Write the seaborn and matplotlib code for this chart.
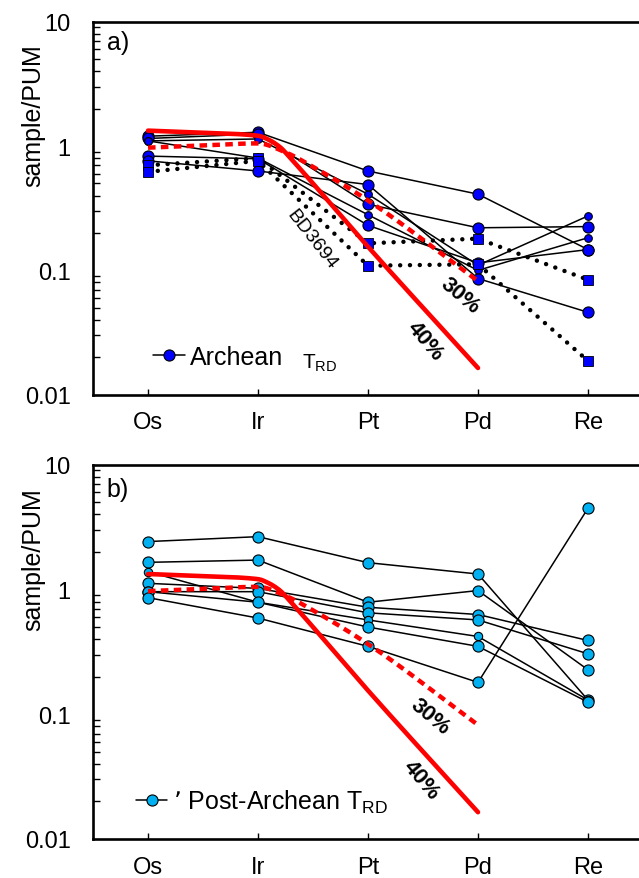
import numpy as np
import matplotlib
matplotlib.use("Agg")
import matplotlib.pyplot as plt
import seaborn as sns
from matplotlib.lines import Line2D

# ---------------- data ----------------
elements = ["Os", "Ir", "Pt", "Pd", "Re"]

# Panel a: Archean samples (solid lines)
arch_s1 = [1.20, 1.29, 0.63, 0.41, 0.147]
arch_s2 = [1.15, 1.25, 0.34, 0.22, 0.225]
arch_s3 = [1.10, 1.14, 0.41, 0.11, 0.274]
arch_s4 = [1.10, 0.80, 0.28, 0.10, 0.183]
arch_s5 = [0.83, 0.79, 0.23, 0.115, 0.147]
arch_s6 = [0.76, 0.63, 0.49, 0.086, 0.046]
# Panel a: dotted samples (incl. BD3694)
arch_d1 = [0.70, 0.80, 0.165, 0.18, 0.084]
arch_d2 = [0.62, 0.76, 0.109, 0.112, 0.0187]

# Panel b: Post-Archean samples
post_1 = [2.42, 2.65, 1.64, 1.33, 0.13]
post_2 = [1.65, 1.72, 0.79, 0.98, 0.227]
post_3 = [1.12, 1.02, 0.72, 0.63, 0.39]
post_4 = [0.96, 0.96, 0.65, 0.57, 0.305]
post_5 = [1.39, 0.79, 0.57, 0.42, 0.13]
post_6 = [0.96, 0.79, 0.50, 0.35, 0.125]
post_7 = [0.86, 0.59, 0.35, 0.18, 4.48]

# Melting model curves
melt40_pos = [0, 0.5, 1.0, 1.1, 1.2, 1.3, 1.4, 2.0, 3.0]
melt40_val = [1.33, 1.28, 1.21, 1.12, 0.98, 0.79, 0.63, 0.155, 0.0164]
melt30_pos = [0, 0.5, 1.0, 1.25, 1.5, 2.0, 3.0]
melt30_val = [0.97, 1.01, 1.05, 0.89, 0.68, 0.365, 0.082]

ytick_vals = [0.01, 0.1, 1, 10]
ytick_labels = ["0.01", "0.1", "1", "10"]


# ---------------- helpers ----------------
def pchip(x, y, xs):
    x = np.asarray(x, float); y = np.asarray(y, float)
    h = np.diff(x); d = np.diff(y) / h
    n = len(x); m = np.zeros(n)
    for k in range(1, n - 1):
        if d[k - 1] * d[k] > 0:
            w1 = 2 * h[k] + h[k - 1]; w2 = h[k] + 2 * h[k - 1]
            m[k] = (w1 + w2) / (w1 / d[k - 1] + w2 / d[k])
    m[0] = d[0]; m[-1] = d[-1]
    out = np.empty_like(xs)
    for i, xv in enumerate(xs):
        k = min(max(np.searchsorted(x, xv) - 1, 0), n - 2)
        t = (xv - x[k]) / h[k]
        h00 = 2*t**3 - 3*t**2 + 1; h10 = t**3 - 2*t**2 + t
        h01 = -2*t**3 + 3*t**2; h11 = t**3 - t**2
        out[i] = h00*y[k] + h10*h[k]*m[k] + h01*y[k+1] + h11*h[k]*m[k+1]
    return out


def smooth_curve(pos, val):
    xs = np.linspace(pos[0], pos[-1], 300)
    ys = 10 ** pchip(pos, np.log10(val), xs)
    return xs, ys


x_idx = np.arange(len(elements))

sns.set_style("white")
plt.rcParams["font.family"] = ["Liberation Sans", "DejaVu Sans"]
plt.rcParams["mathtext.default"] = "regular"
for key in ("text.color", "axes.labelcolor", "xtick.color", "ytick.color", "axes.edgecolor"):
    plt.rcParams[key] = "black"

fig = plt.figure(figsize=(6.39, 8.79), dpi=100)
ax_a = fig.add_axes([93 / 639, 1 - 395.7 / 879, 550 / 639, 373 / 879])
ax_b = fig.add_axes([93 / 639, 1 - 840 / 879, 550 / 639, 374.3 / 879])


def sample_line(ax, vals, face, ms=8, ls="-", lw=1.1, mec="black", marker="o"):
    sns.lineplot(x=x_idx, y=vals, ax=ax, color="black", lw=lw, linestyle=ls,
                 marker=marker, markersize=ms, markerfacecolor=face,
                 markeredgecolor=mec, markeredgewidth=0.8, sort=False,
                 estimator=None, legend=False, zorder=3)


def dotted_line(ax, vals):
    sns.lineplot(x=x_idx, y=vals, ax=ax, color="black", lw=3.2,
                 linestyle=(0, (0.01, 2.2)), dash_capstyle="round",
                 marker="s", markersize=7, markerfacecolor="#0000FF",
                 markeredgecolor="black", markeredgewidth=0.6, sort=False,
                 estimator=None, legend=False, zorder=3)


def model_curves(ax):
    xs, ys = smooth_curve(melt40_pos, melt40_val)
    sns.lineplot(x=xs, y=ys, ax=ax, color="#FF0000", lw=3.3, sort=False,
                 estimator=None, legend=False, zorder=4)
    xs, ys = smooth_curve(melt30_pos, melt30_val)
    sns.lineplot(x=xs, y=ys, ax=ax, color="#FF0000", lw=3.2,
                 linestyle=(0, (1.7, 1.2)), sort=False, estimator=None,
                 legend=False, zorder=4)


# ---------------- panel a ----------------
blue = "#0000FF"
sample_line(ax_a, arch_s1, blue, 8)
sample_line(ax_a, arch_s2, blue, 8)
sample_line(ax_a, arch_s3, blue, 5.5)
sample_line(ax_a, arch_s4, blue, 5.5)
sample_line(ax_a, arch_s5, blue, 8)
sample_line(ax_a, arch_s6, blue, 8)
dotted_line(ax_a, arch_d1)
dotted_line(ax_a, arch_d2)
model_curves(ax_a)

# ---------------- panel b ----------------
sky = "#00B0F0"
sample_line(ax_b, post_1, sky, 8)
sample_line(ax_b, post_2, sky, 8)
sample_line(ax_b, post_3, sky, 8)
sample_line(ax_b, post_4, sky, 8)
sample_line(ax_b, post_5, sky, 6)
sample_line(ax_b, post_6, sky, 8)
sample_line(ax_b, post_7, sky, 8)
model_curves(ax_b)

# ---------------- styling ----------------
for ax in (ax_a, ax_b):
    ax.set_yscale("log")
    ax.set_ylim(0.01, 10)
    ax.set_xlim(-0.5, 4.5)
    ax.set_xticks(x_idx)
    ax.set_xticklabels(elements, fontsize=17, color="black")
    ax.set_yticks(ytick_vals)
    ax.set_yticklabels(ytick_labels, fontsize=17, color="black")
    ax.set_ylabel("sample/PUM", fontsize=18, color="black")
    ax.yaxis.set_label_coords(-0.087, 0.75)
    ax.set_xlabel("")
    for sp in ax.spines.values():
        sp.set_linewidth(1.9)
        sp.set_color("black")
    ax.tick_params(axis="y", which="major", direction="out", length=6, width=1.3, pad=10, color="black")
    ax.tick_params(axis="y", which="minor", direction="in", length=5, width=1.0, left=True, color="black")
    ax.tick_params(axis="x", which="major", direction="in", length=4, width=1.0, pad=12, bottom=True, color="black")
    ax.yaxis.set_minor_locator(matplotlib.ticker.LogLocator(base=10, subs=np.arange(2, 10)))
    ax.yaxis.set_minor_formatter(matplotlib.ticker.NullFormatter())
    ax.grid(False)

# panel labels
ax_a.text(0.025, 0.945, "a)", transform=ax_a.transAxes, fontsize=18, va="center", ha="left", color="black")
ax_b.text(0.025, 0.935, "b)", transform=ax_b.transAxes, fontsize=18, va="center", ha="left", color="black")

# annotations
ax_a.text(2.84, 0.063, "30%", fontsize=16, fontweight="bold", rotation=-40, ha="center", va="center", color="black")
ax_a.text(2.52, 0.0275, "40%", fontsize=16, fontweight="bold", rotation=-50, ha="center", va="center", color="black")
ax_a.text(1.49, 0.18, "BD3694", fontsize=14, rotation=-52, ha="center", va="center", color="black")
ax_b.text(2.56, 0.097, "30%", fontsize=16, fontweight="bold", rotation=-40, ha="center", va="center", color="black")
ax_b.text(2.48, 0.0298, "40%", fontsize=16, fontweight="bold", rotation=-50, ha="center", va="center", color="black")

# legends
h_a = Line2D([], [], color="black", lw=1.1, marker="o", markersize=8,
             markerfacecolor=blue, markeredgecolor="black", markeredgewidth=0.8)
leg_a = ax_a.legend([h_a], ["Archean"], loc="center left", bbox_to_anchor=(0.109, 0.101),
                    frameon=False, fontsize=18, handlelength=1.3, handletextpad=0.2,
                    borderpad=0, borderaxespad=0, labelcolor="black")
ax_a.text(0.38, 0.0735, "T$_{RD}$", transform=ax_a.transAxes, fontsize=15,
          ha="left", va="baseline", color="black")

h_b = Line2D([], [], color="black", lw=1.1, marker="o", markersize=8,
             markerfacecolor=sky, markeredgecolor="black", markeredgewidth=0.8)
ax_b.legend([h_b], ["\u2019 Post-Archean T$_{RD}$"], loc="center left",
            bbox_to_anchor=(0.078, 0.1007), frameon=False, fontsize=18,
            handlelength=1.25, handletextpad=0.23, borderpad=0, borderaxespad=0,
            labelcolor="black")

fig.savefig("out.png", dpi=100)
